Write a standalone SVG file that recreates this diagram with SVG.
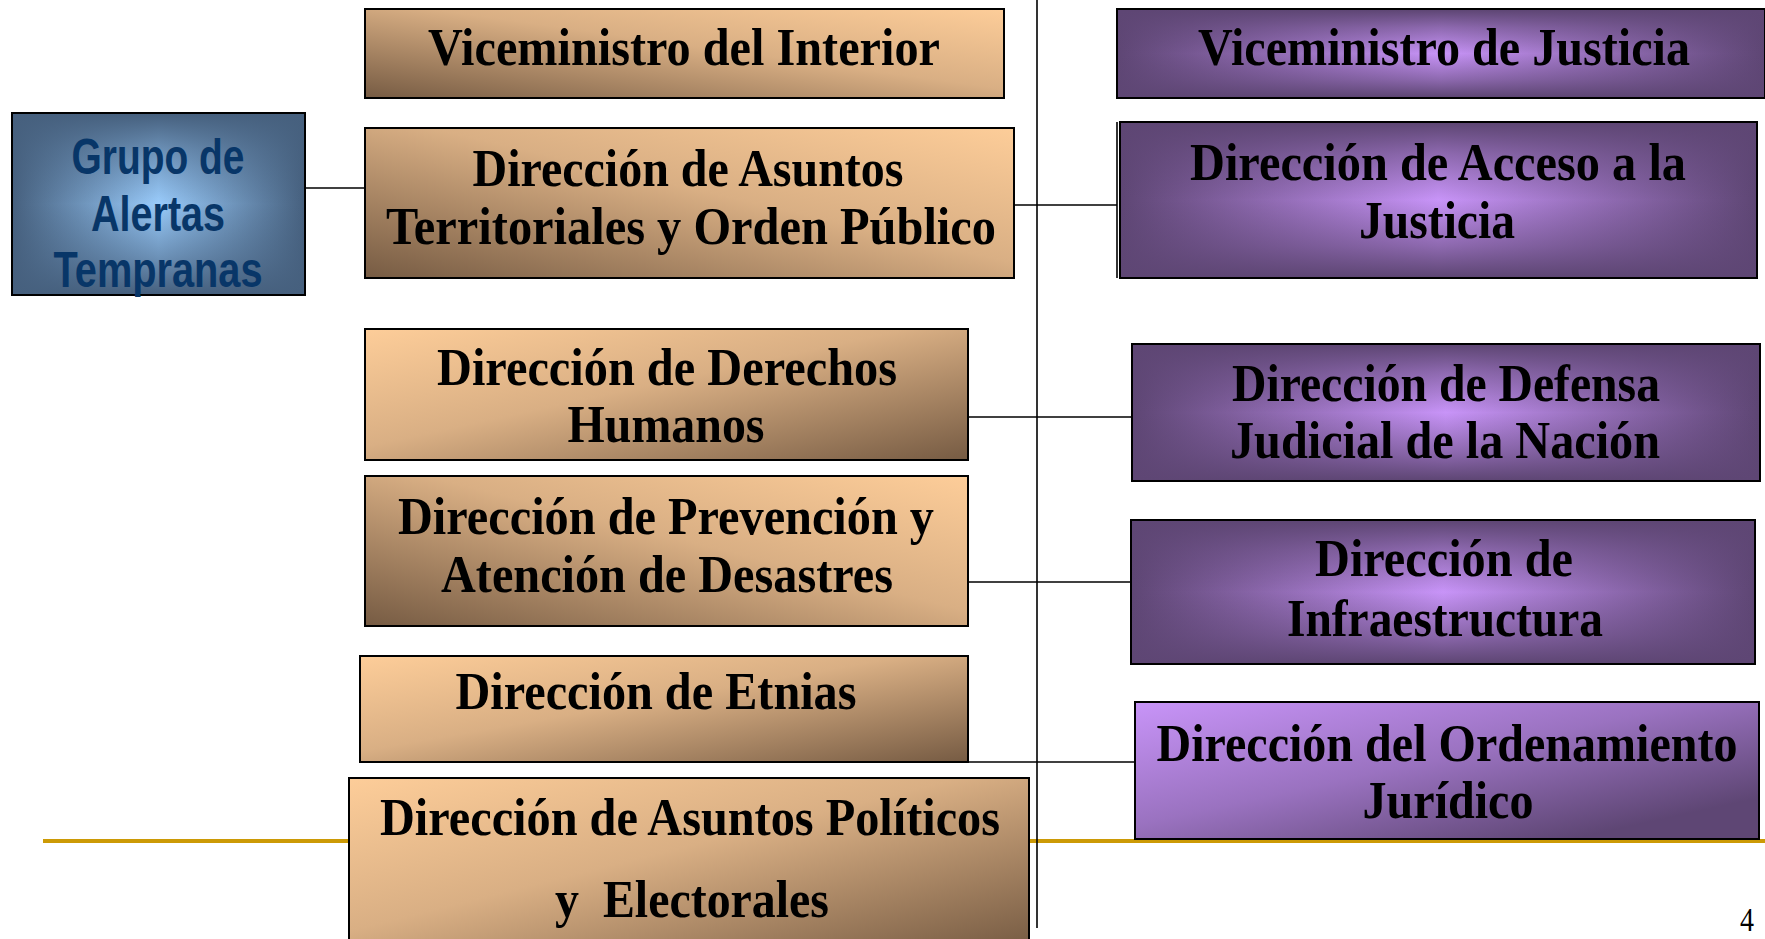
<svg xmlns="http://www.w3.org/2000/svg" width="1765" height="939" viewBox="0 0 1765 939">
<defs>
<linearGradient id="tanTR" x1="1" y1="0" x2="0" y2="1"><stop offset="0" stop-color="#FDCD99"/><stop offset="0.45" stop-color="#D9AF84"/><stop offset="1" stop-color="#765B43"/></linearGradient>
<linearGradient id="tanTL" x1="0" y1="0" x2="1" y2="1"><stop offset="0" stop-color="#FDCD99"/><stop offset="0.45" stop-color="#D9AF84"/><stop offset="1" stop-color="#765B43"/></linearGradient>
<linearGradient id="purH" x1="0" y1="0" x2="1" y2="0"><stop offset="0" stop-color="#5E4674"/><stop offset="0.5" stop-color="#C894F8"/><stop offset="1" stop-color="#5E4674"/></linearGradient>
<linearGradient id="purV" x1="0" y1="0" x2="0" y2="1"><stop offset="0" stop-color="#5E4674" stop-opacity="1"/><stop offset="0.2" stop-color="#5E4674" stop-opacity="0.55"/><stop offset="0.5" stop-color="#5E4674" stop-opacity="0"/><stop offset="0.8" stop-color="#5E4674" stop-opacity="0.55"/><stop offset="1" stop-color="#5E4674" stop-opacity="1"/></linearGradient>
<linearGradient id="purTL" x1="0" y1="0" x2="1" y2="1"><stop offset="0" stop-color="#C894F8"/><stop offset="0.45" stop-color="#9A72C0"/><stop offset="0.85" stop-color="#5E4674"/><stop offset="1" stop-color="#5E4674"/></linearGradient>
<linearGradient id="bluH" x1="0" y1="0" x2="1" y2="0"><stop offset="0" stop-color="#46607E"/><stop offset="0.5" stop-color="#9ACCFC"/><stop offset="1" stop-color="#46607E"/></linearGradient>
<linearGradient id="bluV" x1="0" y1="0" x2="0" y2="1"><stop offset="0" stop-color="#46607E" stop-opacity="1"/><stop offset="0.2" stop-color="#46607E" stop-opacity="0.55"/><stop offset="0.5" stop-color="#46607E" stop-opacity="0"/><stop offset="0.8" stop-color="#46607E" stop-opacity="0.55"/><stop offset="1" stop-color="#46607E" stop-opacity="1"/></linearGradient>
</defs>
<style>
.box{stroke:#000;stroke-width:2}
.ov{stroke:none}
.t{font-family:"Liberation Serif","Times New Roman",serif;font-weight:bold;font-size:52px;fill:#000;text-anchor:middle}
.tb{font-family:"Liberation Sans",Arial,sans-serif;font-weight:bold;font-size:50px;fill:#083668;text-anchor:middle}
.ln{stroke:#000;stroke-width:1.6;fill:none}
.gold{stroke:#CC9A06;stroke-width:4}
.pg{font-family:"Liberation Serif","Times New Roman",serif;font-size:33px;fill:#000;text-anchor:middle}
</style>
<rect width="1765" height="939" fill="#fff"/>
<line class="gold" x1="43" y1="841" x2="1765" y2="841"/>
<g id="connectors">
<line class="ln" x1="305" y1="188" x2="365" y2="188"/>
<line class="ln" x1="1037" y1="0" x2="1037" y2="928"/>
<line class="ln" x1="1014" y1="205" x2="1117" y2="205"/>
<line class="ln" x1="1117" y1="122" x2="1117" y2="278"/>
<line class="ln" x1="968" y1="417" x2="1132" y2="417"/>
<line class="ln" x1="968" y1="582" x2="1131" y2="582"/>
<line class="ln" x1="968" y1="762" x2="1135" y2="762"/>
</g>
<g id="grupo-alertas">
<rect class="box" x="12" y="113" width="293" height="182" fill="url(#bluH)"/>
<rect class="ov" x="13" y="114" width="291" height="180" fill="url(#bluV)"/>
<rect x="12" y="113" width="293" height="182" fill="none" stroke="#000" stroke-width="2"/>
<text class="tb" x="158" y="174" textLength="173" lengthAdjust="spacingAndGlyphs">Grupo de</text>
<text class="tb" x="158" y="231" textLength="134" lengthAdjust="spacingAndGlyphs">Alertas</text>
<text class="tb" x="158" y="287" textLength="209" lengthAdjust="spacingAndGlyphs">Tempranas</text>
</g>
<g id="vice-interior">
<rect class="box" x="365" y="9" width="639" height="89" fill="url(#tanTR)"/>
<text class="t" x="684" y="65" textLength="512" lengthAdjust="spacingAndGlyphs">Viceministro del Interior</text>
</g>
<g id="asuntos-territoriales">
<rect class="box" x="365" y="128" width="649" height="150" fill="url(#tanTR)"/>
<text class="t" x="688" y="186" textLength="431" lengthAdjust="spacingAndGlyphs">Dirección de Asuntos</text>
<text class="t" x="691" y="244" textLength="610" lengthAdjust="spacingAndGlyphs">Territoriales y Orden Público</text>
</g>
<g id="derechos-humanos">
<rect class="box" x="365" y="329" width="603" height="131" fill="url(#tanTL)"/>
<text class="t" x="667" y="385" textLength="460" lengthAdjust="spacingAndGlyphs">Dirección de Derechos</text>
<text class="t" x="666" y="442" textLength="197" lengthAdjust="spacingAndGlyphs">Humanos</text>
</g>
<g id="prevencion-desastres">
<rect class="box" x="365" y="476" width="603" height="150" fill="url(#tanTR)"/>
<text class="t" x="666" y="534" textLength="536" lengthAdjust="spacingAndGlyphs">Dirección de Prevención y</text>
<text class="t" x="667" y="592" textLength="452" lengthAdjust="spacingAndGlyphs">Atención de Desastres</text>
</g>
<g id="etnias">
<rect class="box" x="360" y="656" width="608" height="106" fill="url(#tanTL)"/>
<text class="t" x="656" y="709" textLength="401" lengthAdjust="spacingAndGlyphs">Dirección de Etnias</text>
</g>
<g id="asuntos-politicos">
<rect class="box" x="349" y="778" width="680" height="170" fill="url(#tanTL)"/>
<text class="t" x="690" y="835" textLength="620" lengthAdjust="spacingAndGlyphs">Dirección de Asuntos Políticos</text>
<text class="t" x="692" y="917" textLength="274" lengthAdjust="spacingAndGlyphs" style="white-space:pre">y  Electorales</text>
</g>
<g id="vice-justicia">
<rect class="box" x="1117" y="9" width="648" height="89" fill="url(#purH)"/>
<rect class="ov" x="1118" y="10" width="646" height="87" fill="url(#purV)"/>
<rect x="1117" y="9" width="648" height="89" fill="none" stroke="#000" stroke-width="2"/>
<text class="t" x="1444" y="65" textLength="492" lengthAdjust="spacingAndGlyphs">Viceministro de Justicia</text>
</g>
<g id="acceso-justicia">
<rect class="box" x="1120" y="122" width="637" height="156" fill="url(#purH)"/>
<rect class="ov" x="1121" y="123" width="635" height="154" fill="url(#purV)"/>
<rect x="1120" y="122" width="637" height="156" fill="none" stroke="#000" stroke-width="2"/>
<text class="t" x="1438" y="180" textLength="496" lengthAdjust="spacingAndGlyphs">Dirección de Acceso a la</text>
<text class="t" x="1437" y="238" textLength="156" lengthAdjust="spacingAndGlyphs">Justicia</text>
</g>
<g id="defensa-judicial">
<rect class="box" x="1132" y="344" width="628" height="137" fill="url(#purH)"/>
<rect class="ov" x="1133" y="345" width="626" height="135" fill="url(#purV)"/>
<rect x="1132" y="344" width="628" height="137" fill="none" stroke="#000" stroke-width="2"/>
<text class="t" x="1446" y="401" textLength="428" lengthAdjust="spacingAndGlyphs">Dirección de Defensa</text>
<text class="t" x="1445" y="458" textLength="430" lengthAdjust="spacingAndGlyphs">Judicial de la Nación</text>
</g>
<g id="infraestructura">
<rect class="box" x="1131" y="520" width="624" height="144" fill="url(#purH)"/>
<rect class="ov" x="1132" y="521" width="622" height="142" fill="url(#purV)"/>
<rect x="1131" y="520" width="624" height="144" fill="none" stroke="#000" stroke-width="2"/>
<text class="t" x="1444" y="576" textLength="258" lengthAdjust="spacingAndGlyphs">Dirección de</text>
<text class="t" x="1445" y="636" textLength="316" lengthAdjust="spacingAndGlyphs">Infraestructura</text>
</g>
<g id="ordenamiento-juridico">
<rect class="box" x="1135" y="702" width="624" height="137" fill="url(#purTL)"/>
<text class="t" x="1447" y="761" textLength="581" lengthAdjust="spacingAndGlyphs">Dirección del Ordenamiento</text>
<text class="t" x="1448" y="818" textLength="171" lengthAdjust="spacingAndGlyphs">Jurídico</text>
</g>
<text class="pg" x="1747" y="931" textLength="14" lengthAdjust="spacingAndGlyphs">4</text>
</svg>
